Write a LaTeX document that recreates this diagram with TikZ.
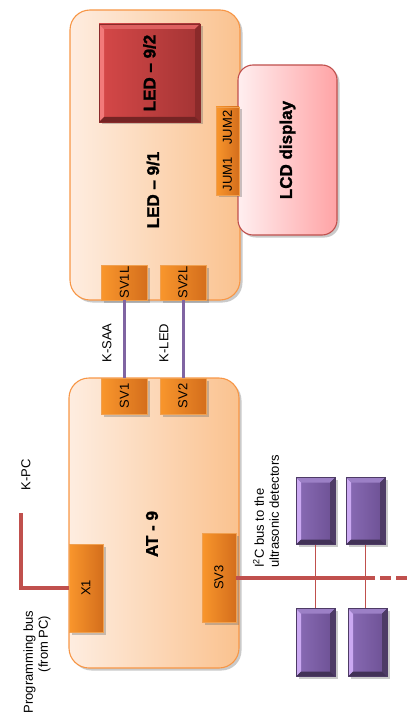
\documentclass[tikz,border=0pt]{standalone}
\usepackage{fontspec}
\setmainfont{Liberation Sans}
\newfontfamily\heavyfont[FakeBold=1.5]{Liberation Sans Bold}
\usetikzlibrary{shadows}
\definecolor{peachL}{HTML}{FEEDE0}
\definecolor{peachR}{HTML}{FAC28F}
\definecolor{peachB}{HTML}{F79646}
\definecolor{orL}{HTML}{F9962C}
\definecolor{orR}{HTML}{D46E1C}
\definecolor{orB}{HTML}{F0A050}
\definecolor{redL}{HTML}{D64848}
\definecolor{redR}{HTML}{A33434}
\definecolor{redHi}{HTML}{F27A7A}
\definecolor{redTop}{HTML}{DE6060}
\definecolor{redDk}{HTML}{8A2A2A}
\definecolor{pinkL}{HTML}{FFEFF0}
\definecolor{pinkR}{HTML}{FFA3A5}
\definecolor{pinkB}{HTML}{C0504D}
\definecolor{purL}{HTML}{8A6CB6}
\definecolor{purR}{HTML}{6C5093}
\definecolor{purHi}{HTML}{CBA9F2}
\definecolor{purTop}{HTML}{9C80C6}
\definecolor{purDk}{HTML}{4E3B66}
\definecolor{wirePur}{HTML}{8064A2}
\definecolor{wireRed}{HTML}{C0504D}
\tikzset{
  shad/.style={drop shadow={shadow xshift=2.5pt,shadow yshift=-2.5pt,opacity=0.35,fill=black!60}},
  bigbox/.style={draw=peachB,line width=1.1pt,rounded corners=20pt,left color=peachL,right color=peachR,shad,inner sep=0pt},
  conn/.style={draw=orB,line width=0.5pt,left color=orL,right color=orR,shad,inner sep=0pt},
  lcdbox/.style={draw=pinkB,line width=1.1pt,rounded corners=15pt,left color=pinkL,right color=pinkR,shad,inner sep=0pt},
  bevelled/.style n args={3}{inner sep=0pt,shad,
    path picture={
      \fill[#1] (path picture bounding box.south west) -- (path picture bounding box.north west)
        -- ([shift={(5pt,-5pt)}]path picture bounding box.north west) -- ([shift={(5pt,5pt)}]path picture bounding box.south west) -- cycle;
      \fill[#2] (path picture bounding box.north west) -- (path picture bounding box.north east)
        -- ([shift={(-5pt,-5pt)}]path picture bounding box.north east) -- ([shift={(5pt,-5pt)}]path picture bounding box.north west) -- cycle;
      \fill[#3] (path picture bounding box.north east) -- (path picture bounding box.south east)
        -- ([shift={(-5pt,5pt)}]path picture bounding box.south east) -- ([shift={(-5pt,-5pt)}]path picture bounding box.north east) -- cycle;
      \fill[#3!85!black] (path picture bounding box.south west) -- (path picture bounding box.south east)
        -- ([shift={(-5pt,5pt)}]path picture bounding box.south east) -- ([shift={(5pt,5pt)}]path picture bounding box.south west) -- cycle;
    }},
  redbox/.style={left color=redL,right color=redR,draw=redDk,line width=0.4pt,bevelled={redHi}{redTop}{redDk}},
  purbox/.style={left color=purL,right color=purR,draw=purDk,line width=0.4pt,bevelled={purHi}{purTop}{purDk}},
  title/.style={rotate=90,font=\heavyfont\fontsize{17}{20}\selectfont,inner sep=0pt},
  small/.style={rotate=90,font=\fontsize{13}{15}\selectfont,inner sep=0pt},
  lbl/.style={rotate=90,font=\fontsize{13}{15}\selectfont,inner sep=0pt},
  purwire/.style={draw=wirePur,line width=3pt},
  redwire/.style={draw=wireRed,line width=4pt},
  thinred/.style={draw=wireRed,line width=1.5pt}
}
\begin{document}
\begin{tikzpicture}[x=1pt,y=-1pt]
\useasboundingbox (0,0) rectangle (412,719);
% LED 9/1 board
\node[bigbox,minimum width=170pt,minimum height=290pt] (led91) at (155,155) {};
\node[title] (led91t) at (153,190) {LED – 9/1};
\node[redbox,minimum width=101pt,minimum height=98pt] (led92) at (149.5,73) {};
\node[title] (led92t) at (led92) {LED – 9/2};
% LCD
\node[lcdbox,minimum width=99pt,minimum height=170pt] (lcd) at (287.5,150) {};
\node[title] (lcdt) at (lcd) {LCD display};
\node[conn,minimum width=23pt,minimum height=88pt] (jum) at (227.5,151) {};
\node[small] (jumt) at (jum) {JUM1\quad JUM2};
\node[conn,minimum width=46pt,minimum height=35pt] (sv1l) at (124.5,282.5) {};
\node[small] (sv1lt) at (sv1l) {SV1L};
\node[conn,minimum width=46pt,minimum height=35pt] (sv2l) at (183,282.5) {};
\node[small] (sv2lt) at (sv2l) {SV2L};
% AT-9 board
\node[bigbox,minimum width=170pt,minimum height=290pt] (at9) at (154,523) {};
\node[title] (at9t) at (152,534) {AT - 9};
\node[conn,minimum width=46pt,minimum height=36pt] (sv1) at (124.5,396) {};
\node[small] (sv1t) at (sv1) {SV1};
\node[conn,minimum width=46pt,minimum height=36pt] (sv2) at (183,396) {};
\node[small] (sv2t) at (sv2) {SV2};
\node[conn,minimum width=34pt,minimum height=88pt] (x1) at (86,588) {};
\node[small] (x1t) at (x1) {X1};
\node[conn,minimum width=34pt,minimum height=89pt] (sv3) at (219,577.5) {};
\node[small] (sv3t) at (sv3) {SV3};
% cables between boards
\draw[purwire] (sv1l.south) -- (sv1.north);
\draw[purwire] (sv2l.south) -- (sv2.north);
\node[lbl] (ksaa) at (107,343) {K-SAA};
\node[lbl] (kled) at (164,343) {K-LED};
% programming bus
\coordinate (kpcend) at (21,513);
\draw[redwire] (kpcend) |- (x1.west);
\node[lbl] (kpc) at (26,475) {K-PC};
\node[lbl,align=center] (prog) at (37,662) {Programming bus\\\hspace*{36pt}(from PC)};
% detectors
\node[purbox,minimum width=39pt,minimum height=67pt] (d1) at (315.5,511) {};
\node[purbox,minimum width=39pt,minimum height=67pt] (d2) at (365.5,511) {};
\node[purbox,minimum width=39pt,minimum height=68pt] (d3) at (315.5,642.5) {};
\node[purbox,minimum width=39pt,minimum height=68pt] (d4) at (367.5,642.5) {};
\draw[thinred] (d1.south) -- (d3.north);
\draw[thinred] (d2.south) -- (d2.south |- d4.north);
% I2C bus
\coordinate (busmid) at (375,577.5);
\coordinate (busend) at (412,577.5);
\draw[redwire] (sv3.east) -- (busmid);
\draw[redwire,dash pattern=on 11pt off 5pt] ([xshift=5pt]busmid) -- (busend);
\node[lbl,align=left,anchor=west] (i2c) at (266,568) {I\textsuperscript{2}C bus to the\\ultrasonic detectors};
\end{tikzpicture}
\end{document}
